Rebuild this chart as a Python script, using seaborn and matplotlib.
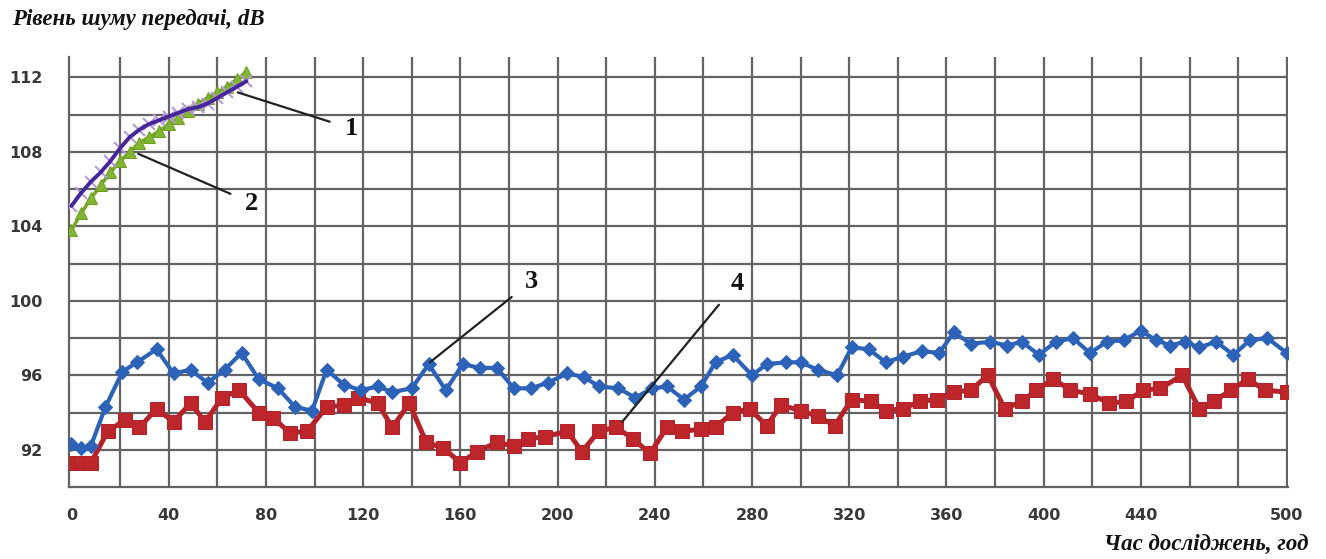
import matplotlib
matplotlib.use("Agg")
import matplotlib.pyplot as plt
from matplotlib.ticker import MultipleLocator, FixedLocator
import numpy as np
import pandas as pd
import seaborn as sns

# Series 1 and 2: short early runs (hours, dB)
hours_1 = [0, 4, 8, 12, 16, 20, 24, 28, 32, 36, 40, 44, 48, 52, 56, 60, 64, 68, 72]
noise_1 = [105.1, 105.8, 106.4, 106.9, 107.5, 108.2, 108.8, 109.2, 109.5, 109.7,
           109.9, 110.1, 110.3, 110.4, 110.6, 110.9, 111.2, 111.5, 111.8]

hours_2 = [0, 4, 8, 12, 16, 20, 24, 28, 32, 36, 40, 44, 48, 52, 56, 60, 64, 68, 72]
noise_2 = [103.8, 104.7, 105.5, 106.2, 106.9, 107.5, 108.0, 108.5, 108.8, 109.1,
           109.5, 109.8, 110.2, 110.6, 110.9, 111.2, 111.5, 111.9, 112.3]

# Series 3: blue diamonds over the full test
hours_3 = [0, 4, 8, 14, 21, 27, 35, 42, 49, 56, 63, 70, 77, 85, 92, 99, 105, 112,
           119, 126, 132, 140, 147, 154, 161, 168, 175, 182, 189, 196, 204, 211,
           217, 225, 232, 239, 245, 252, 259, 265, 272, 280, 286, 294, 300, 307,
           315, 321, 328, 335, 342, 350, 357, 363, 370, 378, 385, 391, 398, 405,
           412, 419, 426, 433, 440, 446, 452, 458, 464, 471, 478, 485, 492, 500]
noise_3 = [92.3, 92.1, 92.2, 94.3, 96.2, 96.7, 97.4, 96.1, 96.3, 95.6, 96.3, 97.2,
           95.8, 95.3, 94.3, 94.1, 96.3, 95.5, 95.2, 95.4, 95.1, 95.3, 96.6, 95.2,
           96.6, 96.4, 96.4, 95.3, 95.3, 95.6, 96.1, 95.9, 95.4, 95.3, 94.8, 95.3,
           95.4, 94.7, 95.4, 96.7, 97.1, 96.0, 96.6, 96.7, 96.7, 96.3, 96.0, 97.5,
           97.4, 96.7, 97.0, 97.3, 97.2, 98.3, 97.7, 97.8, 97.6, 97.8, 97.1, 97.8,
           98.0, 97.2, 97.8, 97.9, 98.4, 97.9, 97.6, 97.8, 97.5, 97.8, 97.1, 97.9,
           98.0, 97.2]

# Series 4: red squares over the full test
hours_4 = [0, 4, 8, 15, 22, 28, 35, 42, 49, 55, 62, 69, 77, 83, 90, 97, 105, 112,
           118, 126, 132, 139, 146, 153, 160, 167, 175, 182, 188, 195, 204, 210,
           217, 224, 231, 238, 245, 251, 259, 265, 272, 279, 286, 292, 300, 307,
           314, 321, 329, 335, 342, 349, 356, 363, 370, 377, 384, 391, 397, 404,
           411, 419, 427, 434, 441, 448, 457, 464, 470, 477, 484, 491, 500]
noise_4 = [91.3, 91.3, 91.3, 93.0, 93.6, 93.2, 94.2, 93.5, 94.5, 93.5, 94.8, 95.2,
           94.0, 93.7, 92.9, 93.0, 94.3, 94.4, 94.8, 94.5, 93.2, 94.5, 92.4, 92.1,
           91.3, 91.9, 92.4, 92.2, 92.6, 92.7, 93.0, 91.9, 93.0, 93.2, 92.6, 91.8,
           93.2, 93.0, 93.1, 93.2, 94.0, 94.2, 93.3, 94.4, 94.1, 93.8, 93.3, 94.7,
           94.6, 94.1, 94.2, 94.6, 94.7, 95.1, 95.2, 96.0, 94.2, 94.6, 95.2, 95.8,
           95.2, 95.0, 94.5, 94.6, 95.2, 95.3, 96.0, 94.2, 94.6, 95.2, 95.8, 95.2,
           95.1]

x_tick_values = [0, 40, 80, 120, 160, 200, 240, 280, 320, 360, 400, 440, 500]
y_tick_values = [92, 96, 100, 104, 108, 112]

y_title = "Рівень шуму передачі, dB"
x_title = "Час досліджень, год"
curve_labels = ["1", "2", "3", "4"]

sns.set_theme(style="white")
plt.rcParams["font.family"] = ["DejaVu Sans"]

fig = plt.figure(figsize=(13.26, 5.59), dpi=100)
ax = fig.add_axes([69 / 1326, 1 - 487 / 559, (1288 - 69) / 1326, (487 - 57) / 559])

df4 = pd.DataFrame({"h": hours_4, "db": noise_4})
df3 = pd.DataFrame({"h": hours_3, "db": noise_3})
df2 = pd.DataFrame({"h": hours_2, "db": noise_2})
df1 = pd.DataFrame({"h": hours_1, "db": noise_1})

sns.lineplot(data=df4, x="h", y="db", ax=ax, color="#b3242a", lw=3.6,
             marker="s", markersize=10.5, markeredgecolor="#b3242a",
             markerfacecolor="#bd262b", zorder=4)
sns.lineplot(data=df3, x="h", y="db", ax=ax, color="#2c62b8", lw=3.0,
             marker="D", markersize=7.5, markeredgecolor="#2c62b8",
             markerfacecolor="#2c62b8", zorder=5)
sns.lineplot(data=df2, x="h", y="db", ax=ax, color="#7aaa2a", lw=2.6,
             marker="^", markersize=9, markeredgecolor="#6e9e22",
             markerfacecolor="#82b532", zorder=6)
sns.lineplot(data=df1, x="h", y="db", ax=ax, color="#b69ad8", lw=0,
             marker="x", markersize=8, markeredgecolor="#b69ad8",
             markeredgewidth=1.5, zorder=7)
sns.lineplot(data=df1, x="h", y="db", ax=ax, color="#46259a", lw=2.8, zorder=8)

ax.set_xlim(-1, 500.5)
ax.set_ylim(90, 113.1)

ax.xaxis.set_major_locator(FixedLocator(x_tick_values))
ax.xaxis.set_minor_locator(MultipleLocator(4))
ax.yaxis.set_major_locator(FixedLocator(y_tick_values))
ax.yaxis.set_minor_locator(MultipleLocator(0.4))

# Grid every 20 h and every 2 dB
for gx in np.arange(20, 501, 20):
    ax.axvline(gx, color="#636363", lw=1.6, zorder=1)
for gy in np.arange(92, 113, 2):
    ax.axhline(gy, color="#636363", lw=1.6, zorder=1)

for side in ["top", "right"]:
    ax.spines[side].set_visible(False)
for side in ["left", "bottom"]:
    ax.spines[side].set_color("#636363")
    ax.spines[side].set_linewidth(1.6)

tick_font = dict(fontsize=11.5, fontweight="bold", color="#383838")
ax.set_xticklabels([str(v) for v in x_tick_values], **tick_font)
ax.set_yticklabels([str(v) for v in y_tick_values], **tick_font)
ax.tick_params(axis="x", which="major", direction="out", length=6, width=1.3,
               color="#636363", pad=9)
ax.tick_params(axis="x", which="minor", direction="out", length=4, width=1.0,
               color="#636363")
ax.tick_params(axis="y", which="major", direction="out", length=6, width=1.3,
               color="#636363", pad=13)
ax.tick_params(axis="y", which="minor", direction="out", length=3, width=0.9,
               color="#636363")
ax.set_xlabel("")
ax.set_ylabel("")

serif_bi = dict(family=["Liberation Serif", "DejaVu Serif"], fontweight="bold",
                fontstyle="italic", color="#111111")
fig.text(12 / 1326, 1 - 19 / 559, y_title, ha="left", va="center",
         fontsize=16.5, **serif_bi)
fig.text(1308 / 1326, 1 - 544 / 559, x_title, ha="right", va="center",
         fontsize=16.5, **serif_bi)

# Curve numbers with leader lines
leaders = [
    ((68.4, 111.2), (112.5, 109.25)),
    ((27.5, 107.9), (71.5, 105.25)),
    ((147.5, 96.7), (186.5, 101.05)),
    ((226.6, 93.5), (271.0, 100.95)),
]
for label, (start, text_pos) in zip(curve_labels, leaders):
    ax.annotate(label, xy=start, xytext=text_pos, ha="left", va="center",
                family=["Liberation Serif", "DejaVu Serif"], fontweight="bold",
                fontsize=19, color="#111111", zorder=9,
                arrowprops=dict(arrowstyle="-", color="#222222", lw=1.6,
                                shrinkA=9, shrinkB=0))

fig.savefig("out.png", dpi=100, facecolor="white")
